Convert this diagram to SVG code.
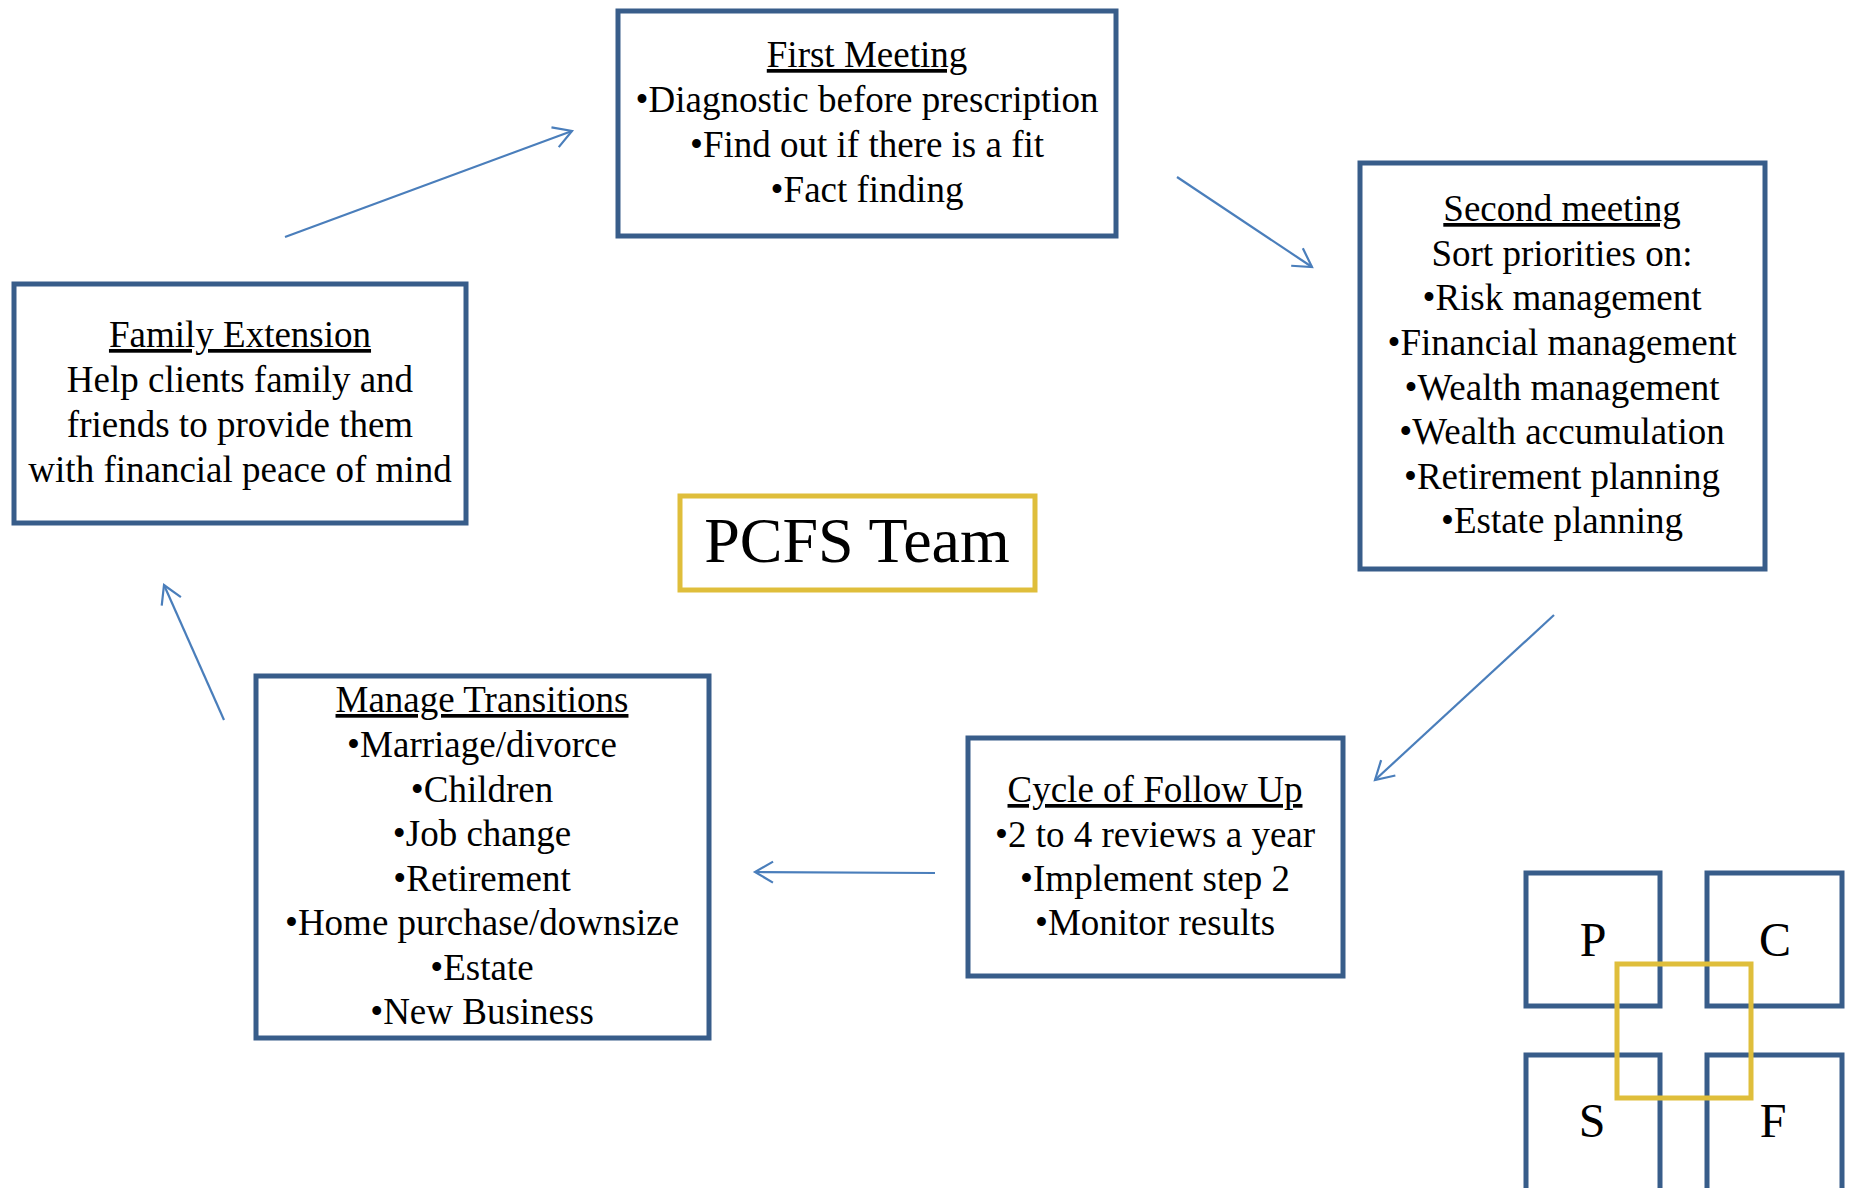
<svg xmlns="http://www.w3.org/2000/svg" width="1853" height="1188" viewBox="0 0 1853 1188">
<style>
.box{fill:#fff;stroke:#385D8A;stroke-width:5}
.gold{fill:none;stroke:#DFBE3B;stroke-width:5}
.t{font-family:"Liberation Serif","Times New Roman",serif;font-size:37px;fill:#000;text-anchor:middle}
.u{text-decoration:underline}
.big{font-family:"Liberation Serif","Times New Roman",serif;font-size:64px;fill:#000;text-anchor:middle}
.let{font-family:"Liberation Serif","Times New Roman",serif;font-size:48px;fill:#000;text-anchor:middle}
.conn{fill:none;stroke:#4A7EBB;stroke-width:2.2}
</style>
<defs>
<marker id="ah" markerUnits="userSpaceOnUse" markerWidth="30" markerHeight="30" viewBox="0 0 30 30" refX="22" refY="15" orient="auto" overflow="visible">
<path d="M4,4.5 L22,15 L4,25.5" fill="none" stroke="#4A7EBB" stroke-width="2.2"/>
</marker>
</defs>
<rect width="1853" height="1188" fill="#fff"/>
<g id="connectors">
<line class="conn" x1="285" y1="237" x2="572" y2="131" marker-end="url(#ah)"/>
<line class="conn" x1="1177" y1="177" x2="1312" y2="267" marker-end="url(#ah)"/>
<line class="conn" x1="1554" y1="615" x2="1375" y2="780" marker-end="url(#ah)"/>
<line class="conn" x1="935" y1="873" x2="755" y2="872" marker-end="url(#ah)"/>
<line class="conn" x1="224" y1="720" x2="164" y2="585" marker-end="url(#ah)"/>
</g>
<g id="first-meeting">
<rect class="box" x="618" y="11" width="498" height="225"/>
<text class="t" x="867" y="67"><tspan class="u">First Meeting</tspan></text>
<text class="t" x="867" y="112">•Diagnostic before prescription</text>
<text class="t" x="867" y="157">•Find out if there is a fit</text>
<text class="t" x="867" y="202">•Fact finding</text>
</g>
<g id="second-meeting">
<rect class="box" x="1360" y="163" width="405" height="406"/>
<text class="t" x="1562" y="221"><tspan class="u">Second meeting</tspan></text>
<text class="t" x="1562" y="266">Sort priorities on:</text>
<text class="t" x="1562" y="310">•Risk management</text>
<text class="t" x="1562" y="355">•Financial management</text>
<text class="t" x="1562" y="400">•Wealth management</text>
<text class="t" x="1562" y="444">•Wealth accumulation</text>
<text class="t" x="1562" y="489">•Retirement planning</text>
<text class="t" x="1562" y="533">•Estate planning</text>
</g>
<g id="family-extension">
<rect class="box" x="14" y="284" width="452" height="239"/>
<text class="t" x="240" y="347"><tspan class="u">Family Extension</tspan></text>
<text class="t" x="240" y="392">Help clients family and</text>
<text class="t" x="240" y="437">friends to provide them</text>
<text class="t" x="240" y="482">with financial peace of mind</text>
</g>
<g id="pcfs-team">
<rect x="680" y="496" width="355" height="94" fill="#fff" stroke="#DFBE3B" stroke-width="5"/>
<text class="big" x="857" y="562">PCFS Team</text>
</g>
<g id="manage-transitions">
<rect class="box" x="256" y="676" width="453" height="362"/>
<text class="t" x="482" y="712"><tspan class="u">Manage Transitions</tspan></text>
<text class="t" x="482" y="757">•Marriage/divorce</text>
<text class="t" x="482" y="802">•Children</text>
<text class="t" x="482" y="846">•Job change</text>
<text class="t" x="482" y="891">•Retirement</text>
<text class="t" x="482" y="935">•Home purchase/downsize</text>
<text class="t" x="482" y="980">•Estate</text>
<text class="t" x="482" y="1024">•New Business</text>
</g>
<g id="cycle-follow-up">
<rect class="box" x="968" y="738" width="375" height="238"/>
<text class="t" x="1155" y="802"><tspan class="u">Cycle of Follow Up</tspan></text>
<text class="t" x="1155" y="847">•2 to 4 reviews a year</text>
<text class="t" x="1155" y="891">•Implement step 2</text>
<text class="t" x="1155" y="935">•Monitor results</text>
</g>
<g id="logo">
<rect class="box" x="1526" y="873" width="134" height="133"/>
<rect class="box" x="1707" y="873" width="135" height="133"/>
<rect class="box" x="1526" y="1055" width="134" height="140"/>
<rect class="box" x="1707" y="1055" width="135" height="140"/>
<rect class="gold" x="1617" y="964" width="134" height="134"/>
<text class="let" x="1593" y="956">P</text>
<text class="let" x="1775" y="956">C</text>
<text class="let" x="1592" y="1137">S</text>
<text class="let" x="1773" y="1137">F</text>
</g>
</svg>
